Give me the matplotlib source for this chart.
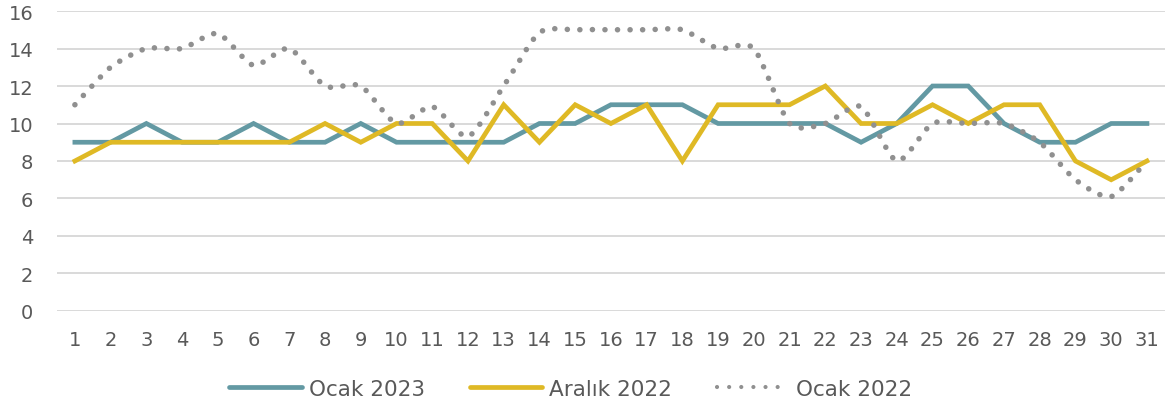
import matplotlib.pyplot as plt
import numpy as np
from matplotlib.path import Path
from matplotlib.patches import PathPatch
from matplotlib.lines import Line2D

days = list(range(1, 32))
ocak_2023 = [9, 9, 10, 9, 9, 10, 9, 9, 10, 9, 9, 9, 9, 10, 10, 11,
             11, 11, 10, 10, 10, 10, 9, 10, 12, 12, 10, 9, 9, 10, 10]
aralik_2022 = [8, 9, 9, 9, 9, 9, 9, 10, 9, 10, 10, 8, 11, 9, 11, 10,
               11, 8, 11, 11, 11, 12, 10, 10, 11, 10, 11, 11, 8, 7, 8]
ocak_2022 = [11, 13, 14, 14, 14.8, 13.1, 14, 12, 12, 10, 10.9, 9.3, 12, 14.85, 15, 15,
             15, 15, 14, 14, 10, 10, 10.9, 8, 10, 10, 10, 9, 7, 6.1, 8]
yticks = [0, 2, 4, 6, 8, 10, 12, 14, 16]

teal = '#6399A3'
yellow = '#DFB925'
gray = '#909090'
txt = '#595959'

plt.rcParams['font.family'] = ['DejaVu Sans']

fig = plt.figure(figsize=(11.71, 4.14), dpi=100)
ax = fig.add_axes([0.0487, 0.2464, 0.946, 0.7246])

ax.plot(days, ocak_2023, color=teal, lw=3.4, solid_joinstyle='miter', zorder=3)
ax.plot(days, aralik_2022, color=yellow, lw=3.4, solid_joinstyle='miter', zorder=4)

# smoothed dotted line (bezier through the points, like excel's smooth line)
x = np.array(days, dtype=float)
y = np.array(ocak_2022, dtype=float)
k = 0.12
verts = [(x[0], y[0])]
codes = [Path.MOVETO]
n = len(x)
for i in range(n - 1):
    x0, y0 = (x[i - 1], y[i - 1]) if i > 0 else (x[i], y[i])
    x3, y3 = (x[i + 2], y[i + 2]) if i + 2 < n else (x[i + 1], y[i + 1])
    c1 = (x[i] + (x[i + 1] - x0) * k, y[i] + (y[i + 1] - y0) * k)
    c2 = (x[i + 1] - (x3 - x[i]) * k, y[i + 1] - (y3 - y[i]) * k)
    verts += [c1, c2, (x[i + 1], y[i + 1])]
    codes += [Path.CURVE4] * 3
dots = (0, (0.01, 2.25))
patch = PathPatch(Path(verts, codes), facecolor='none', edgecolor=gray, lw=4.0,
                  linestyle=dots, capstyle='round', zorder=5)
ax.add_patch(patch)

ax.set_xlim(0.5, 31.5)
ax.set_ylim(0, 16)
ax.set_xticks(days)
ax.set_yticks(yticks)
ax.grid(axis='y', color='#D9D9D9', lw=1.4)
ax.set_axisbelow(True)
for s in ax.spines.values():
    s.set_visible(False)
ax.tick_params(length=0, labelsize=14, labelcolor=txt)
ax.tick_params(axis='y', pad=17)
ax.tick_params(axis='x', pad=14)

handles = [Line2D([], [], color=teal, lw=3.4, solid_capstyle='round'),
           Line2D([], [], color=yellow, lw=3.4, solid_capstyle='round'),
           Line2D([], [], color=gray, lw=3.0, linestyle=(0, (0.01, 2.9)),
                  dash_capstyle='round')]
leg = fig.legend(handles, ['Ocak 2023', 'Aralık 2022', 'Ocak 2022'],
                 loc='center', bbox_to_anchor=(0.4876, 0.058), ncol=3, frameon=False,
                 fontsize=15.5, handlelength=3.35, handletextpad=0.33, columnspacing=2.1)
for t in leg.get_texts():
    t.set_color(txt)

fig.savefig('out.png', dpi=100)
